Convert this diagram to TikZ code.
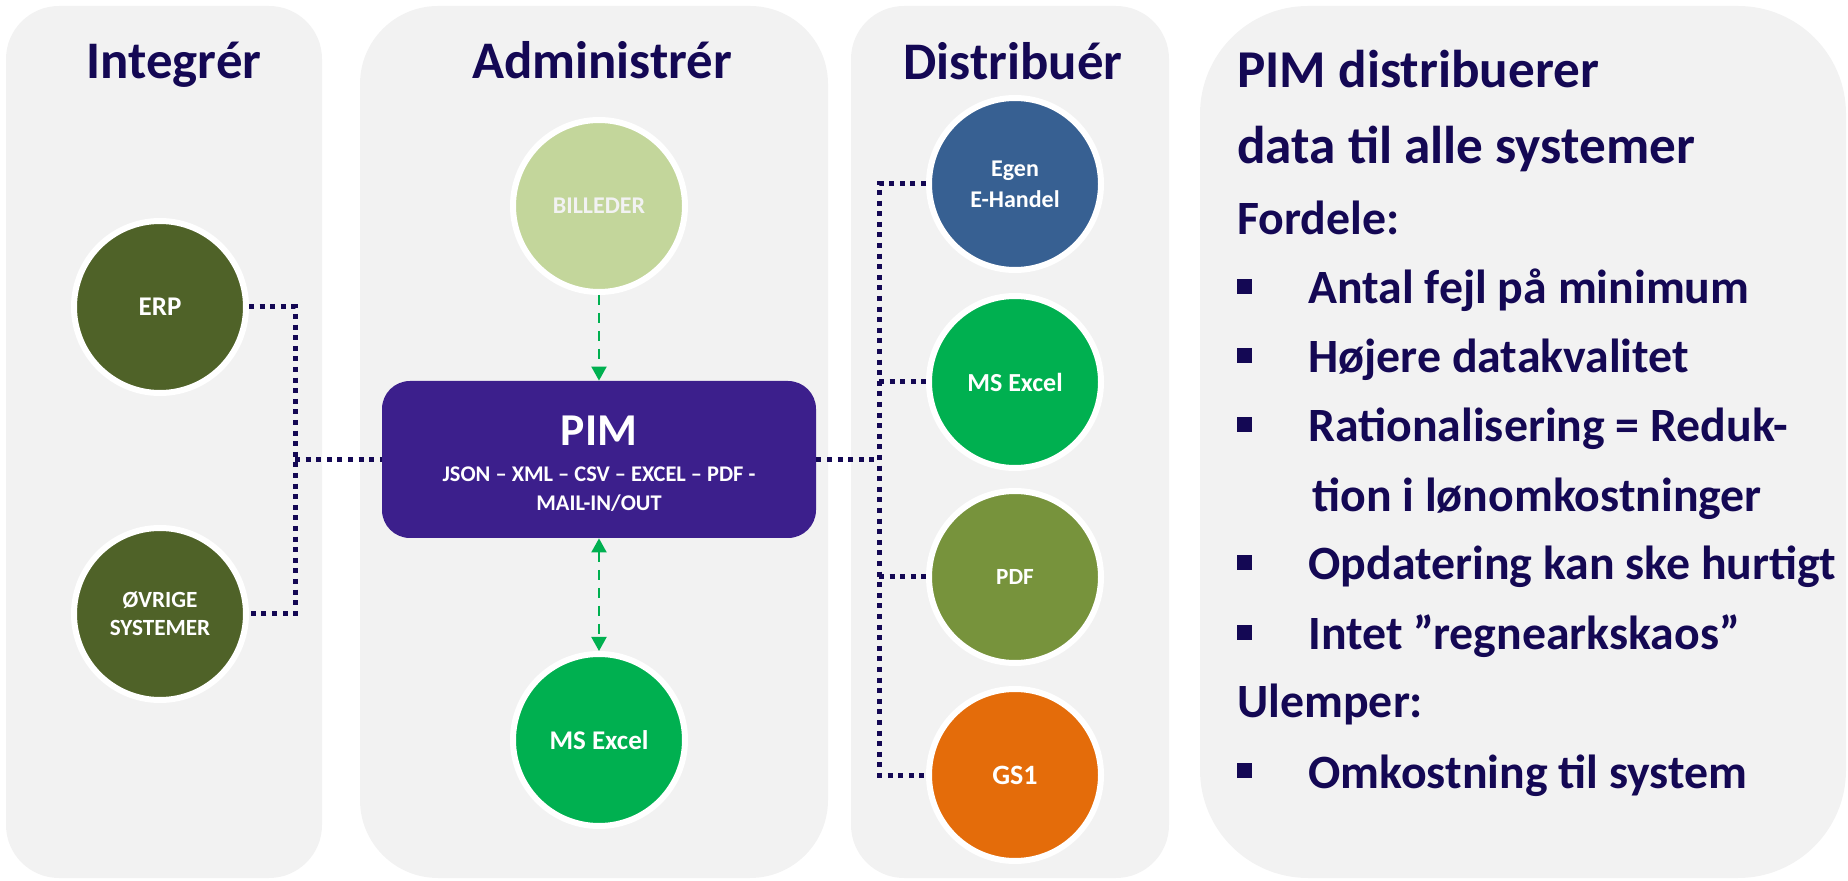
\documentclass[tikz,border=0pt]{standalone}
\usepackage{fontspec}
\setmainfont{Carlito}
\usetikzlibrary{arrows.meta}

\definecolor{panelgray}{HTML}{F2F2F2}
\definecolor{navy}{RGB}{20,8,84}
\definecolor{pimpurple}{RGB}{60,31,140}
\definecolor{erpgreen}{RGB}{79,98,40}
\definecolor{lightgreen}{RGB}{195,214,155}
\definecolor{excelgreen}{RGB}{0,176,80}
\definecolor{shopblue}{RGB}{55,96,146}
\definecolor{pdfgreen}{RGB}{119,147,60}
\definecolor{gsorange}{RGB}{228,108,10}

\newcommand{\sqbullet}{\makebox[35.5pt][l]{\raisebox{5pt}{\rule{7.5pt}{7.5pt}}}}

\begin{document}
\begin{tikzpicture}[x=0.5pt,y=-0.5pt]

      \useasboundingbox (0,0) rectangle (1848,881);

      % panels
      \begin{scope}[every path/.style={fill=panelgray}]
        \path[rounded corners=26.5pt] (6,6)    rectangle (322,878);
        \path[rounded corners=39pt]   (360,6)  rectangle (828,878);
        \path[rounded corners=26.5pt] (851,6)  rectangle (1169,878);
        \path[rounded corners=54pt]   (1200,6) rectangle (1846,878);
      \end{scope}

      \begin{scope}[every node/.style={anchor=base,inner sep=0pt,text=navy,font=\bfseries\fontsize{26.4}{30}\selectfont}]
        \node (integ)  at (174,79)  {Integrér};
        \node (admin)  at (602,79)  {Administrér};
        \node (distr)  at (1013,80) {Distribuér};
      \end{scope}

      \begin{scope}[every node/.style={circle,draw=white,line width=3pt,minimum size=86pt,inner sep=0pt,
          text=white,align=center,font=\bfseries\fontsize{13}{15.5}\selectfont}]
        \node[fill=erpgreen,font=\bfseries\fontsize{13.5}{15.5}\selectfont] (erp) at (160,307) {ERP};
        \node[fill=erpgreen,font=\bfseries\fontsize{11.6}{14}\selectfont] (ovrige) at (160,614) {ØVRIGE\\SYSTEMER};
        \node[fill=lightgreen,text=panelgray,font=\bfseries\fontsize{12}{14}\selectfont] (bill) at (599,206) {BILLEDER};
        \node[fill=excelgreen,font=\bfseries\fontsize{13.5}{15.5}\selectfont] (excela) at (599,740) {MS Excel};
        \node[fill=shopblue,font=\bfseries\fontsize{12}{15.5}\selectfont] (shop) at (1015,184) {Egen\\E-Handel};
        \node[fill=excelgreen] (excelb) at (1015,382) {MS Excel};
        \node[fill=pdfgreen,font=\bfseries\fontsize{11.6}{14}\selectfont] (pdf) at (1015,577) {PDF};
        \node[fill=gsorange,font=\bfseries\fontsize{14}{16}\selectfont] (gs) at (1015,775) {GS1};
      \end{scope}

      \node[rectangle,rounded corners=14pt,fill=pimpurple,minimum width=217pt,minimum height=78.5pt] (pim) at (599,459.5) {};

      \begin{scope}[every node/.style={anchor=base,inner sep=0pt,text=white,font=\bfseries\fontsize{11.2}{14.5}\selectfont}]
        \node[font=\bfseries\fontsize{22.8}{26}\selectfont] (pimname) at (599,446) {PIM};
        \node (fmt1) at (599,482) {JSON – XML – CSV – EXCEL – PDF -};
        \node (fmt2) at (599,511) {MAIL-IN/OUT};
      \end{scope}

      \coordinate (lbus) at (295,459.5);
      \coordinate (rbus) at (879,459.5);

      \begin{scope}[every path/.style={draw=navy,line width=2.5pt,dash pattern=on 2.5pt off 2.8pt}]
        \path (erp.east) -| (lbus) |- (ovrige.east);
        \path (lbus) -- (pim.west);
        \path (pim.east) -- (rbus);
        \path (shop.west) -| (rbus) |- (gs.west);
        \path (excelb.west -| rbus) -- (excelb.west);
        \path (pdf.west -| rbus) -- (pdf.west);
      \end{scope}

      \begin{scope}[every path/.style={draw=excelgreen,line width=1pt,dash pattern=on 5pt off 4pt}]
        \path[-{Triangle[width=7.5pt,length=7pt]}] (bill) -- (pim);
        \path[{Triangle[width=7.5pt,length=7pt]}-{Triangle[width=7.5pt,length=7pt]}] (pim) -- (excela);
      \end{scope}

      \begin{scope}[every node/.style={anchor=base west,inner sep=0pt,text=navy,font=\bfseries\fontsize{23.9}{28}\selectfont}]
        \node[font=\bfseries\fontsize{26.6}{30}\selectfont] (head1) at (1237,88) {PIM distribuerer};
        \node[font=\bfseries\fontsize{26.6}{30}\selectfont] (head2) at (1237,164) {data til alle systemer};
        \node (pros)  at (1237,235) {Fordele:};
        \node (pro1)  at (1237,304) {\sqbullet Antal fejl på minimum};
        \node (pro2)  at (1237,373) {\sqbullet Højere datakvalitet};
        \node (pro3)  at (1237,442) {\sqbullet Rationalisering = Reduk-};
        \node (pro3b) at (1312,512) {tion i lønomkostninger};
        \node (pro4)  at (1237,580) {\sqbullet Opdatering kan ske hurtigt};
        \node (pro5)  at (1237,650) {\sqbullet Intet ”regnearkskaos”};
        \node (cons)  at (1237,718) {Ulemper:};
        \node (con1)  at (1237,788) {\sqbullet Omkostning til system};
      \end{scope}

    \end{tikzpicture}
\end{document}
